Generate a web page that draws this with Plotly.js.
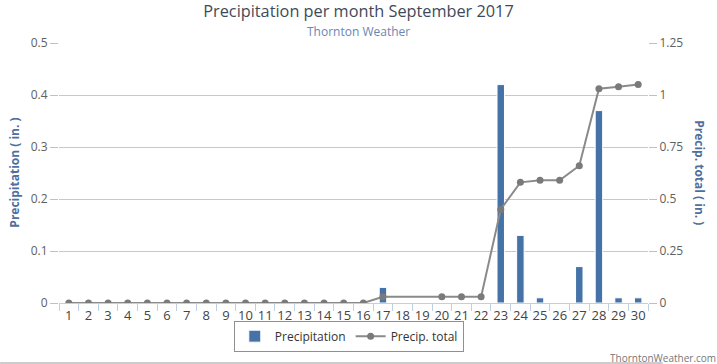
<!DOCTYPE html>
<html>
<head>
<meta charset="utf-8">
<script src="https://cdn.plot.ly/plotly-3.0.1.min.js"></script>
<style>html,body{margin:0;padding:0;background:#fff;}#chart{width:717px;height:364px;}</style>
</head>
<body>
<div id="chart"></div>
<script>
const days = ["1","2","3","4","5","6","7","8","9","10","11","12","13","14","15","16","17","18","19","20","21","22","23","24","25","26","27","28","29","30"];
const precipitation = [0,0,0,0,0,0,0,0,0,0,0,0,0,0,0,0,0.03,0,0,0,0,0,0.42,0.13,0.01,0,0.07,0.37,0.01,0.01];
const precipTotal = [0,0,0,0,0,0,0,0,0,0,0,0,0,0,0,0,0.03,null,null,0.03,0.03,0.03,0.45,0.58,0.59,0.59,0.66,1.03,1.04,1.05];

const font = "Open Sans, Verdana, sans-serif";

const traces = [
  {
    type: "bar", name: "Precipitation", x: days, y: precipitation,
    width: 0.38,
    marker: {color: "#4572A7", line: {color: "#ffffff", width: 1}},
    hoverinfo: "x+y"
  },
  {
    type: "scatter", mode: "lines+markers", name: "Precip. total", x: days, y: precipTotal,
    yaxis: "y2", connectgaps: true,
    line: {color: "#8a8a8a", width: 2},
    marker: {color: "#7a7a7a", size: 7}
  }
];

const layout = {
  width: 717, height: 364,
  margin: {l: 59, r: 69, t: 43, b: 61},
  paper_bgcolor: "#ffffff", plot_bgcolor: "#ffffff",
  font: {family: font, color: "#606060", size: 12},
  title: {
    text: "Precipitation per month September 2017",
    font: {family: font, size: 16.3, color: "#3E4A5A"},
    x: 0.5, xanchor: "center", y: 0.968, yanchor: "middle"
  },
  bargap: 0.6,
  showlegend: true,
  legend: {
    orientation: "h", x: 0.492, xanchor: "center", y: -0.068, yanchor: "top",
    bordercolor: "#909090", borderwidth: 1, bgcolor: "#ffffff",
    font: {family: font, size: 12, color: "#333333"},
    itemwidth: 30, tracegroupgap: 0
  },
  xaxis: {
    type: "category", tickson: "boundaries", ticks: "outside", ticklen: 7,
    tickcolor: "#C0D0E0", showline: true, linecolor: "#C0D0E0", linewidth: 1,
    showgrid: false, zeroline: false, tickangle: 0,
    tickfont: {family: font, size: 13, color: "#444444"},
    range: [-0.5, 29.5], fixedrange: true
  },
  yaxis: {
    range: [0, 0.5], tickvals: [0, 0.1, 0.2, 0.3, 0.4, 0.5], ticktext: ["0","0.1","0.2","0.3","0.4","0.5"],
    showgrid: true, gridcolor: "#C8C8C8", gridwidth: 1, zeroline: false,
    ticks: "outside", ticklen: 8, tickcolor: "#C0C0C0",
    tickfont: {family: font, size: 12, color: "#606060"},
    showline: false
  },
  yaxis2: {
    overlaying: "y", side: "right", range: [0, 1.25],
    tickvals: [0, 0.25, 0.5, 0.75, 1, 1.25], ticktext: ["0","0.25","0.5","0.75","1","1.25"],
    showgrid: false, zeroline: false,
    ticks: "outside", ticklen: 8, tickcolor: "#C0C0C0",
    tickfont: {family: font, size: 12, color: "#606060"}
  },
  annotations: [
    {text: "Thornton Weather", xref: "paper", yref: "paper", x: 0.508, y: 1.044, xanchor: "center", yanchor: "middle",
     showarrow: false, font: {family: font, size: 12, color: "#6a86b3"}},
    {text: "<b>Precipitation ( in. )</b>", xref: "paper", yref: "paper", x: -0.077, y: 0.5, xanchor: "center", yanchor: "middle",
     textangle: -90, showarrow: false, font: {family: font, size: 12, color: "#4d6f9e"}},
    {text: "<b>Precip. total ( in. )</b>", xref: "paper", yref: "paper", x: 1.088, y: 0.5, xanchor: "center", yanchor: "middle",
     textangle: 90, showarrow: false, font: {family: font, size: 12, color: "#4d6f9e"}},
    {text: "ThorntonWeather.com", xref: "paper", yref: "paper", x: 1.118, y: -0.21, xanchor: "right", yanchor: "middle",
     showarrow: false, font: {family: font, size: 10, color: "#777777"}}
  ],
  shapes: [
    {type: "line", xref: "paper", yref: "paper", x0: -0.1, x1: 1.025, y0: -0.231, y1: -0.231,
     line: {color: "#cccccc", width: 2}}
  ]
};

Plotly.newPlot("chart", traces, layout, {displayModeBar: false, staticPlot: true});
</script>
</body>
</html>
